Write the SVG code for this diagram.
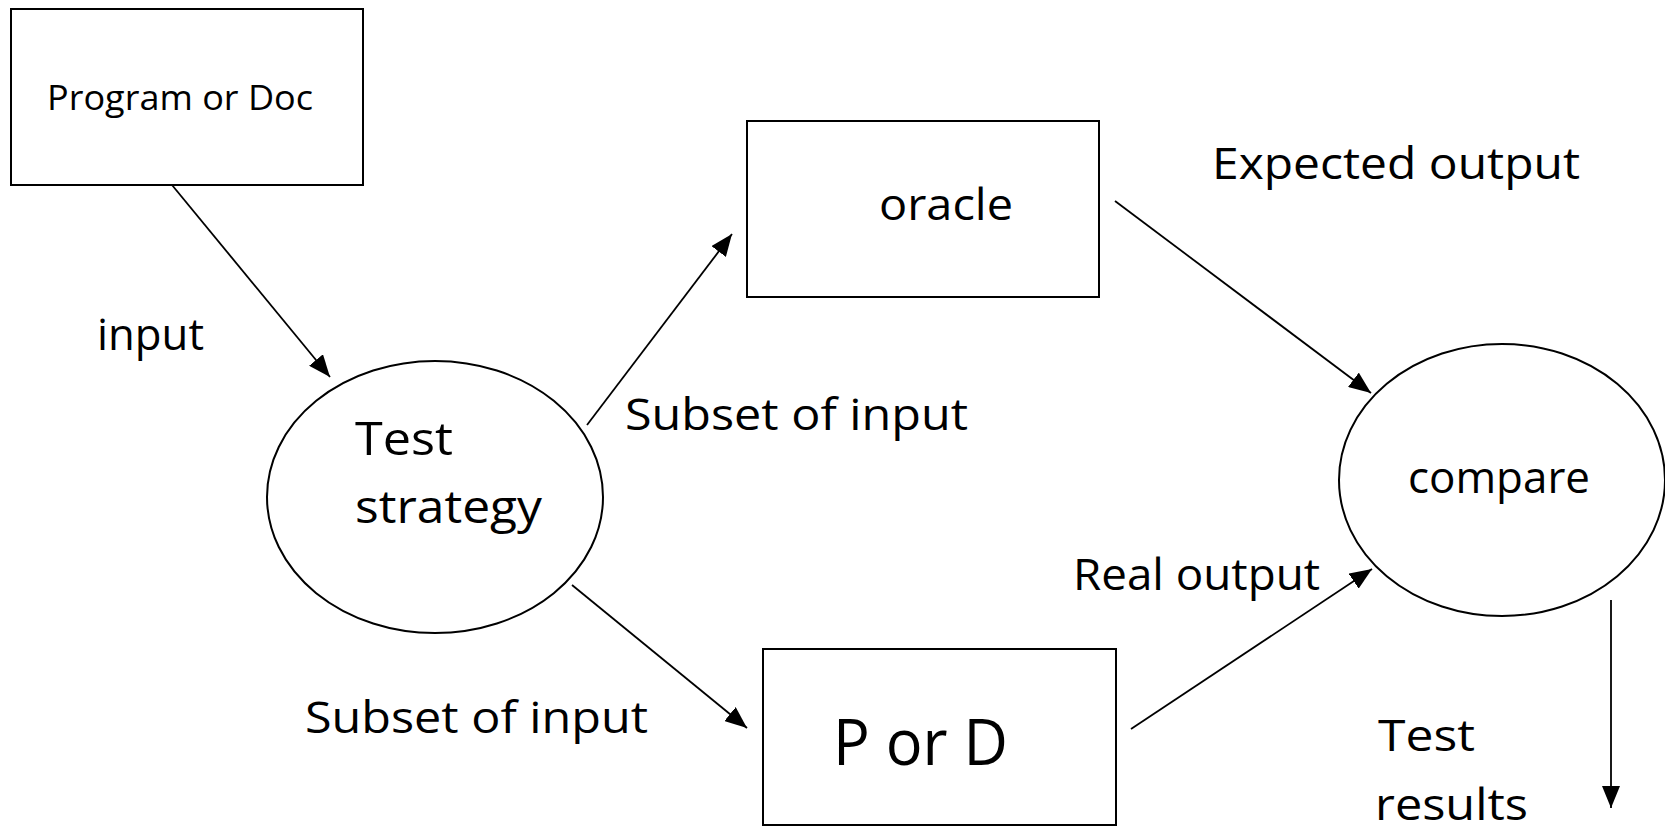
<svg xmlns="http://www.w3.org/2000/svg" width="1665" height="835" viewBox="0 0 1665 835">
<style>
.box{fill:#fff;stroke:#000;stroke-width:2}
.ell{fill:#fff;stroke:#000;stroke-width:2}
.con{stroke:#000;stroke-width:1.8;fill:none;marker-end:url(#ah)}
text{font-family:"Open Sans","DejaVu Sans",sans-serif;fill:#000}
.lbl{font-size:44px}
</style>
<defs>
<marker id="ah" markerUnits="userSpaceOnUse" markerWidth="22" markerHeight="18" refX="22" refY="9" orient="auto">
<path d="M0,0 L22,9 L0,18 z" fill="#000"/>
</marker>
</defs>
<rect width="1665" height="835" fill="#fff"/>
<g id="connectors">
<line class="con" x1="172" y1="185" x2="330" y2="377"/>
<line class="con" x1="587" y1="425" x2="732" y2="234"/>
<line class="con" x1="572" y1="585" x2="747" y2="728"/>
<line class="con" x1="1115" y1="201" x2="1371" y2="393"/>
<line class="con" x1="1131" y1="729" x2="1372" y2="569"/>
<line class="con" x1="1611" y1="600" x2="1611" y2="808"/>
</g>
<g id="program">
<rect class="box" x="11" y="9" width="352" height="176"/>
<text x="47" y="110" font-size="34" textLength="266" lengthAdjust="spacingAndGlyphs">Program or Doc</text>
</g>
<g id="oracle">
<rect class="box" x="747" y="121" width="352" height="176"/>
<text x="879" y="220" font-size="44" textLength="134" lengthAdjust="spacingAndGlyphs">oracle</text>
</g>
<g id="pord">
<rect class="box" x="763" y="649" width="353" height="176"/>
<text x="833" y="765" font-size="64" textLength="175" lengthAdjust="spacingAndGlyphs">P or D</text>
</g>
<g id="strategy">
<ellipse class="ell" cx="435" cy="497" rx="168" ry="136"/>
<text x="355" y="455" font-size="46" textLength="98" lengthAdjust="spacingAndGlyphs">Test</text>
<text x="355" y="523" font-size="46" textLength="187" lengthAdjust="spacingAndGlyphs">strategy</text>
</g>
<g id="compare">
<ellipse class="ell" cx="1502" cy="480" rx="163" ry="136"/>
<text x="1408" y="493" font-size="44" textLength="182" lengthAdjust="spacingAndGlyphs">compare</text>
</g>
<g id="labels">
<text class="lbl" x="97" y="350" textLength="107" lengthAdjust="spacingAndGlyphs">input</text>
<text class="lbl" x="625" y="430" textLength="343" lengthAdjust="spacingAndGlyphs">Subset of input</text>
<text class="lbl" x="305" y="733" textLength="343" lengthAdjust="spacingAndGlyphs">Subset of input</text>
<text class="lbl" x="1212" y="179" textLength="368" lengthAdjust="spacingAndGlyphs">Expected output</text>
<text class="lbl" x="1073" y="590" textLength="247" lengthAdjust="spacingAndGlyphs">Real output</text>
<text class="lbl" x="1378" y="751" textLength="97" lengthAdjust="spacingAndGlyphs">Test</text>
<text class="lbl" x="1375" y="820" font-size="42" textLength="153" lengthAdjust="spacingAndGlyphs">results</text>
</g>
</svg>
